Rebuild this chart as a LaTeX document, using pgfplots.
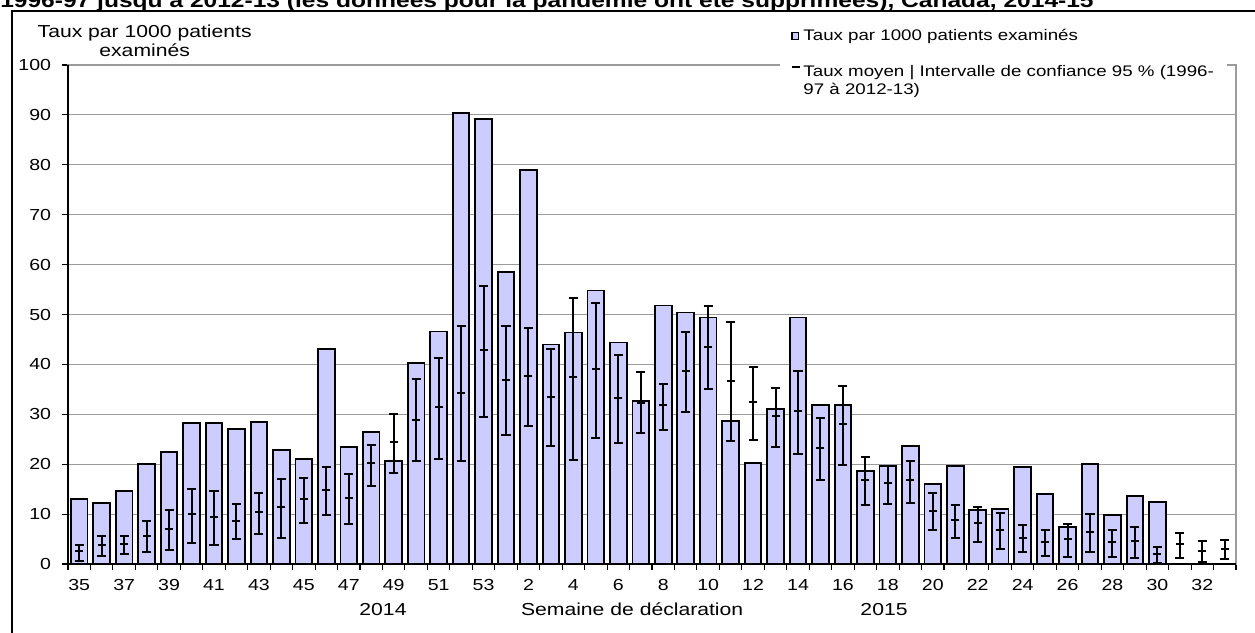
\documentclass[border=0pt]{standalone}
\usepackage{fontspec}
\setmainfont{Liberation Sans}[FakeStretch=1.22]
\usepackage{pgfplots}
\pgfplotsset{compat=1.18}
\usepackage{pgfplotstable}
\definecolor{barfill}{RGB}{204,204,255}
\definecolor{gridgray}{RGB}{155,155,155}

% weekly rate (bars): index 0 = week 35 of 2014 ... 18 = week 53, 19 = week 1 of 2015 ...
\pgfplotstableread{
x bar
0 13.1
1 12.2
2 14.7
3 20.0
4 22.5
5 28.3
6 28.3
7 27.0
8 28.5
9 22.8
10 21.0
11 43.0
12 23.5
13 26.4
14 20.7
15 40.3
16 46.6
17 90.4
18 89.2
19 58.6
20 79.0
21 44.0
22 46.4
23 54.8
24 44.4
25 32.7
26 51.8
27 50.4
28 49.4
29 28.7
30 20.3
31 31.1
32 49.4
33 31.9
34 31.9
35 18.6
36 19.7
37 23.6
38 16.1
39 19.6
40 10.8
41 11.0
42 19.4
43 14.1
44 7.5
45 20.1
46 9.8
47 13.7
48 12.5
}\bars

% mean rate with 95% CI (ep = upper - mean, em = mean - lower)
\pgfplotstableread{
x mean ep em
0 2.7 1.2 2.1
1 3.9 1.8 2.3
2 4.1 1.6 2.1
3 5.7 3.0 3.2
4 7.0 3.8 4.2
5 10.0 5.0 5.7
6 9.5 5.2 5.6
7 8.6 3.4 3.6
8 10.4 3.8 4.3
9 11.4 5.6 6.1
10 13.1 4.2 4.8
11 14.8 4.7 5.0
12 13.3 4.7 5.3
13 20.2 3.6 4.5
14 24.4 5.6 6.2
15 28.9 8.1 8.3
16 31.4 9.9 10.3
17 34.3 13.3 13.6
18 42.8 12.9 13.4
19 36.9 10.7 11.1
20 37.7 9.5 10.1
21 33.5 9.5 9.8
22 37.5 15.9 16.6
23 39.0 13.4 13.7
24 33.2 8.7 8.9
25 32.3 6.2 6.1
26 31.8 4.3 4.9
27 38.6 7.8 8.1
28 43.5 8.3 8.5
29 36.7 11.7 12.1
30 32.4 7.1 7.5
31 29.7 5.5 6.2
32 30.7 7.9 8.6
33 23.2 6.0 6.4
34 28.1 7.6 8.3
35 16.8 4.6 5.0
36 16.2 3.5 4.2
37 16.8 3.9 4.6
38 10.7 3.5 3.8
39 8.8 3.0 3.5
40 8.2 3.2 3.7
41 6.8 3.5 3.8
42 5.3 2.5 2.9
43 4.5 2.4 2.9
44 5.1 2.9 3.7
45 6.5 3.5 4.1
46 4.5 2.4 3.1
47 4.7 2.8 3.5
48 2.1 1.4 1.9
49 4.1 2.2 2.9
50 2.7 2.0 2.3
51 3.1 1.8 2.1
}\means

\begin{document}
\fontsize{12}{14}\selectfont
\begin{tikzpicture}
\useasboundingbox (0pt,0pt) rectangle (941.25pt,474pt);
\clip (0pt,0pt) rectangle (941.25pt,474pt);
% title (cut by the top edge, as in the source image)
\node[anchor=base west, inner sep=0pt, font=\bfseries\fontsize{15.1}{17}\selectfont] at (0pt,468pt)
  {1996-97 jusqu'à 2012-13 (les données pour la pandémie ont été supprimées), Canada, 2014-15};
% outer frame
\draw[black, line width=1pt] (9pt,-20pt) -- (9pt,465.75pt) -- (960pt,465.75pt);
\begin{axis}[
  at={(51pt,51pt)}, anchor=south west,
  scale only axis, width=876pt, height=374.25pt,
  xmin=-0.5, xmax=51.5, ymin=0, ymax=100,
  clip=false,
  axis line style={gridgray, line width=0.8pt},
  tick pos=left, tick align=outside,
  ytick={0,10,...,100},
  ymajorgrids, major grid style={gridgray, line width=0.8pt},
  xtick={0,2,...,50},
  xticklabels={35,37,39,41,43,45,47,49,51,53,2,4,6,8,10,12,14,16,18,20,22,24,26,28,30,32},
  minor xtick={-0.5,0.5,...,51.5},
  major x tick style={draw=none},
  minor x tick style={black, line width=0.8pt},
  minor tick length=4.5pt,
  major y tick style={black, line width=0.8pt},
  major tick length=4.5pt,
  /pgf/number format/assume math mode=true,
  ticklabel style={font=\fontsize{12}{14}\selectfont},
  yticklabel style={anchor=east, inner sep=0pt, xshift=-8pt},
  xticklabel style={anchor=base, inner sep=0pt, yshift=-15.5pt},
  xlabel={Semaine de déclaration},
  every axis x label/.style={at={(rel axis cs:0.483,0)}, anchor=base, yshift=-38.25pt, font=\fontsize{13}{15}\selectfont},
  ylabel={Taux par 1000 patients\\examinés},
  every axis y label/.style={at={(rel axis cs:0,1)}, anchor=south, align=center, inner sep=0pt,
    xshift=57.5pt, yshift=6pt, font=\fontsize{13}{14.25}\selectfont},
  legend style={at={(rel axis cs:0.6096,1.088)}, anchor=north west, draw=none, fill=white,
    inner xsep=8pt, inner ysep=4pt, row sep=11.5pt, cells={anchor=west},
    font=\fontsize{11.5}{13.5}\selectfont},
]
\addplot[ybar, bar width=12.5pt, fill=barfill, draw=black, line width=1.4pt,
  legend image code/.code={\draw[fill=barfill, draw=black, line width=1pt] (0pt,-2.6pt) rectangle (5.2pt,2.6pt);}]
  table[x=x, y=bar] {\bars};
\addlegendentry{Taux par 1000 patients examinés}
\addplot[black, only marks, mark=-, mark size=3pt, mark options={line width=1.5pt},
  legend image code/.code={\path[draw=none, fill=none] (0pt,-6.6pt) rectangle (6pt,6.6pt); \draw[black, line width=1.4pt] (0pt,6.6pt) -- (6pt,6.6pt);},
  error bars/.cd, y dir=both, y explicit,
  error bar style={line width=1.5pt, black},
  error mark options={rotate=90, black, mark size=3.4pt, line width=1.5pt}]
  table[x=x, y=mean, y error plus=ep, y error minus=em] {\means};
\addlegendentry{\begin{tabular}{@{}l@{}}Taux moyen | Intervalle de confiance 95 \% (1996-\\97 à 2012-13)\end{tabular}}
\draw[black, line width=1pt] (rel axis cs:0,1) -- (rel axis cs:0,0) -- (rel axis cs:1,0);
\end{axis}
\node[anchor=base, font=\fontsize{13}{15}\selectfont] at (287.25pt,12.75pt) {2014};
\node[anchor=base, font=\fontsize{13}{15}\selectfont] at (663pt,12.75pt) {2015};
\end{tikzpicture}
\end{document}
